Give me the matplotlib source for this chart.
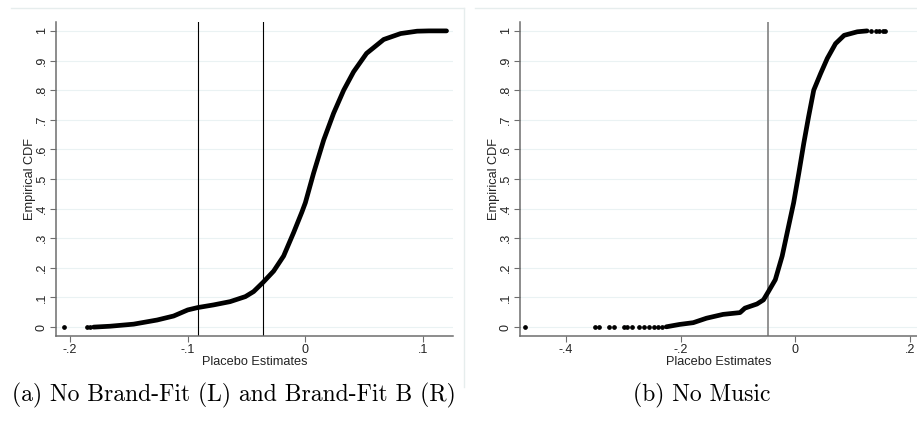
import matplotlib.pyplot as plt
from matplotlib.lines import Line2D

# values: (placebo estimate, empirical CDF)
a_x = [-0.180, -0.166, -0.146, -0.126, -0.112, -0.100, -0.0915, -0.078, -0.064,
       -0.051, -0.044, -0.036, -0.027, -0.0185, -0.010, -0.003, 0.0, 0.007,
       0.0156, 0.024, 0.0326, 0.041, 0.052, 0.0666, 0.081, 0.095, 0.105, 0.12]
a_y = [0.0, 0.003, 0.010, 0.024, 0.0375, 0.058, 0.066, 0.075, 0.086,
       0.103, 0.120, 0.151, 0.189, 0.240, 0.319, 0.388, 0.42, 0.52,
       0.632, 0.722, 0.80, 0.862, 0.924, 0.971, 0.991, 0.999, 1.0, 1.0]
a_tail_x = [-0.205, -0.186, -0.183]
a_tail_y = [0.0, 0.0, 0.0]
a_vlines = [-0.091, -0.036]

b_x = [-0.225, -0.202, -0.178, -0.155, -0.126, -0.0965, -0.088, -0.067, -0.0556,
       -0.047, -0.035, -0.023, -0.0117, -0.003, 0.006, 0.0146, 0.023, 0.032,
       0.044, 0.0556, 0.070, 0.085, 0.108, 0.125]
b_y = [0.001, 0.009, 0.015, 0.030, 0.043, 0.049, 0.064, 0.078, 0.092,
       0.120, 0.160, 0.240, 0.342, 0.42, 0.52, 0.62, 0.71, 0.80,
       0.856, 0.907, 0.957, 0.985, 0.997, 1.0]
b_tail_x = [-0.471, -0.349, -0.343, -0.325, -0.316, -0.298, -0.294, -0.284,
            -0.272, -0.264, -0.256, -0.247, -0.239, -0.232,
            0.132, 0.140, 0.146, 0.152, 0.156]
b_tail_y = [0.0] * 14 + [1.0] * 5
b_vlines = [-0.047]

yticks = [0, 0.1, 0.2, 0.3, 0.4, 0.5, 0.6, 0.7, 0.8, 0.9, 1.0]
ylabels = ['0', '.1', '.2', '.3', '.4', '.5', '.6', '.7', '.8', '.9', '1']

plt.rcParams['font.family'] = ['Liberation Sans', 'DejaVu Sans']

fig = plt.figure(figsize=(9.17, 4.26), dpi=100)

# faint graph-region frames
frame_col = '#e6eded'
fig.add_artist(Line2D([11/917, 464/917], [1-8/426, 1-8/426], color=frame_col, lw=1))
fig.add_artist(Line2D([464/917, 464/917], [1-8/426, 1-387/426], color=frame_col, lw=1))
fig.add_artist(Line2D([475/917, 1.0], [1-8/426, 1-8/426], color=frame_col, lw=1))


def panel(rect, xs, ys, tx, ty, vlines, vcol, vlw, xlim, xticks, xlabels, caption, capx):
    ax = fig.add_axes(rect)
    ax.set_xlim(*xlim)
    ax.set_ylim(-0.03, 1.03)
    ax.set_yticks(yticks)
    ax.set_yticklabels(ylabels, rotation=90, va='center')
    ax.set_xticks(xticks)
    ax.set_xticklabels(xlabels)
    ax.grid(axis='y', color='#eaf2f3', lw=0.8)
    ax.set_axisbelow(True)
    for s in ['top', 'right']:
        ax.spines[s].set_visible(False)
    for s in ['left', 'bottom']:
        ax.spines[s].set_color('#6e6e6e')
        ax.spines[s].set_linewidth(1.1)
    ax.tick_params(labelsize=9, length=4, width=0.8, color='#6e6e6e', pad=2,
                   labelcolor='#222222')
    for v in vlines:
        ax.axvline(v, color=vcol, lw=vlw, zorder=2)
    ax.plot(xs, ys, color='black', lw=3.4, solid_capstyle='round', zorder=3)
    ax.plot(tx, ty, 'o', color='black', ms=2.4, zorder=3)
    ax.set_ylabel('Empirical CDF', fontsize=9.2, color='#222222', labelpad=0)
    ax.set_xlabel('Placebo Estimates', fontsize=9.2, color='#222222', labelpad=0)
    fig.text(capx, 1-395/426, caption, family='cmr10', fontsize=17,
             ha='center', va='center')
    return ax


panel([56/917, 1-336/426, 397/917, 314/426], a_x, a_y, a_tail_x, a_tail_y,
      a_vlines, 'black', 0.8, (-0.212, 0.1255), [-0.2, -0.1, 0, 0.1],
      ['-.2', '-.1', '0', '.1'], '(a) No Brand-Fit (L) and Brand-Fit B (R)', 234/917)

panel([520/917, 1-336/426, 397/917, 314/426], b_x, b_y, b_tail_x, b_tail_y,
      b_vlines, '#8a8a8a', 1.3, (-0.48, 0.212), [-0.4, -0.2, 0, 0.2],
      ['-.4', '-.2', '0', '.2'], '(b) No Music', 702/917)

fig.savefig('out.png', dpi=100)
